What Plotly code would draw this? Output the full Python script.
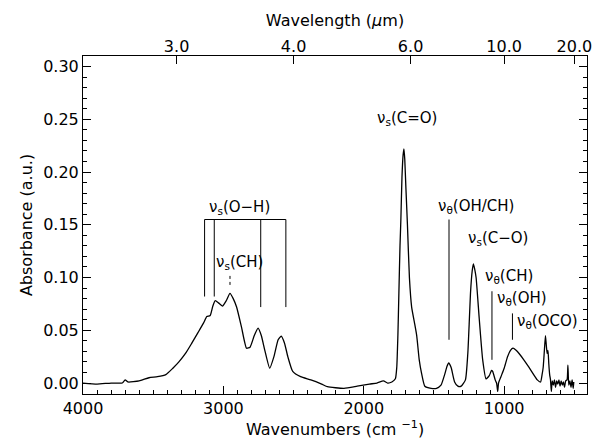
import plotly.graph_objects as go

# Spectrum (wavenumber in cm^-1, absorbance in a.u.)
wavenumber = [4000, 3900, 3800, 3720, 3700, 3680, 3600, 3530, 3470, 3410, 3360, 3317, 3270,
              3224, 3180, 3141, 3118, 3094, 3075, 3058, 3035, 3007, 2980, 2953, 2930, 2906,
              2871, 2835, 2810, 2780, 2753, 2730, 2705, 2670, 2640, 2610, 2588, 2565, 2541,
              2506, 2450, 2377, 2300, 2259, 2141, 2047, 1960, 1906, 1860, 1830, 1800, 1775,
              1765, 1757, 1750, 1742, 1736, 1728, 1720, 1714, 1708, 1700, 1689, 1675, 1659,
              1640, 1623, 1605, 1588, 1565, 1520, 1482, 1450, 1424, 1407, 1395, 1385, 1376,
              1353, 1330, 1306, 1276, 1259, 1248, 1240, 1228, 1219, 1210, 1200, 1177, 1153,
              1129, 1106, 1090, 1082, 1064, 1054, 1046, 1040, 1023, 1000, 976, 955, 937, 915,
              894, 860, 824, 790, 764, 741, 730, 722, 714, 706, 700, 694, 688, 682, 676, 670,
              664, 658, 650, 642, 634, 626, 618, 610, 602, 594, 586, 578, 570, 562, 552, 546,
              540, 532, 524, 516, 508, 504]
absorbance = [0.000, -0.001, 0.000, 0.000, 0.003, 0.001, 0.002, 0.005, 0.006, 0.008, 0.014,
              0.020, 0.028, 0.038, 0.048, 0.057, 0.063, 0.064, 0.073, 0.078, 0.076, 0.073,
              0.078, 0.085, 0.080, 0.072, 0.053, 0.033, 0.034, 0.045, 0.052, 0.045, 0.031,
              0.014, 0.025, 0.041, 0.0445, 0.038, 0.025, 0.011, 0.006, 0.003, -0.001, -0.0035,
              -0.005, -0.003, -0.001, 0.000, 0.002, 0.000, 0.001, 0.004, 0.015, 0.045, 0.085,
              0.130, 0.154, 0.195, 0.216, 0.222, 0.212, 0.185, 0.150, 0.100, 0.072, 0.058,
              0.045, 0.022, 0.009, -0.003, -0.005, -0.005, -0.002, 0.008, 0.016, 0.019, 0.017,
              0.014, 0.001, -0.003, -0.003, 0.003, 0.028, 0.060, 0.085, 0.106, 0.113, 0.108,
              0.100, 0.060, 0.022, 0.004, 0.007, 0.012, 0.011, 0.003, 0.000, -0.008, 0.000,
              0.006, 0.014, 0.025, 0.031, 0.033, 0.031, 0.028, 0.022, 0.015, 0.008, 0.003,
              0.001, 0.008, 0.015, 0.030, 0.045, 0.036, 0.028, 0.031, 0.018, 0.008, 0.003,
              -0.008, 0.002, -0.002, 0.003, -0.004, 0.002, -0.001, 0.003, -0.003, 0.002,
              -0.002, 0.001, -0.004, 0.002, 0.003, 0.017, -0.002, 0.002, -0.004, 0.003,
              -0.005, 0.001]

# Top axis: wavelength ticks (micron) placed at the equivalent wavenumbers
wavelength_ticks = [3.0, 4.0, 6.0, 10.0, 20.0]
wavelength_labels = ["3.0", "4.0", "6.0", "10.0", "20.0"]

# Band assignments: (label, x, y)
band_labels = [
    ("ν<sub>s</sub>(O−H)", 2882, 0.166),
    ("ν<sub>s</sub>(CH)", 2882, 0.114),
    ("ν<sub>s</sub>(C=O)", 1694, 0.251),
    ("ν<sub>θ</sub>(OH/CH)", 1200, 0.167),
    ("ν<sub>s</sub>(C−O)", 1047, 0.137),
    ("ν<sub>θ</sub>(CH)", 967, 0.1006),
    ("ν<sub>θ</sub>(OH)", 870, 0.080),
    ("ν<sub>θ</sub>(OCO)", 694, 0.058),
]
# O-H bracket
oh_bracket_x = [3134, 3065, 2734, 2555]
oh_bracket_bottom = [0.082, 0.082, 0.072, 0.072]
oh_bracket_top = 0.155
# single marker lines: (x, y0, y1)
marker_lines = [(1393, 0.041, 0.155), (1087, 0.022, 0.087), (941, 0.041, 0.066)]
ch_dotted = (2953, 0.093, 0.102)

FONT = "DejaVu Sans"
fig = go.Figure()
fig.add_trace(go.Scatter(x=wavenumber, y=absorbance, mode="lines",
                         line=dict(color="black", width=1.3, shape="spline", smoothing=0.5),
                         showlegend=False, hoverinfo="skip"))
fig.add_trace(go.Scatter(x=[wavenumber[0]], y=[absorbance[0]], mode="markers",
                         marker=dict(opacity=0), xaxis="x2", showlegend=False,
                         hoverinfo="skip"))

shapes = []
shapes.append(dict(type="line", xref="x", yref="y", x0=oh_bracket_x[0], x1=oh_bracket_x[-1],
                   y0=oh_bracket_top, y1=oh_bracket_top, line=dict(color="black", width=1)))
for xv, yb in zip(oh_bracket_x, oh_bracket_bottom):
    shapes.append(dict(type="line", xref="x", yref="y", x0=xv, x1=xv, y0=yb,
                       y1=oh_bracket_top, line=dict(color="black", width=1)))
for xv, y0, y1 in marker_lines:
    shapes.append(dict(type="line", xref="x", yref="y", x0=xv, x1=xv, y0=y0, y1=y1,
                       line=dict(color="black", width=1)))
shapes.append(dict(type="line", xref="x", yref="y", x0=ch_dotted[0], x1=ch_dotted[0],
                   y0=ch_dotted[1], y1=ch_dotted[2],
                   line=dict(color="black", width=1, dash="dot")))

annotations = [dict(text=t, x=xv, y=yv, xref="x", yref="y", showarrow=False,
                    font=dict(family=FONT, size=15, color="black"))
               for t, xv, yv in band_labels]

tickfont = dict(family=FONT, size=16, color="black")
titlefont = dict(family=FONT, size=16, color="black")

fig.update_layout(
    width=595, height=444,
    margin=dict(l=83, r=3, t=56, b=50),
    paper_bgcolor="white", plot_bgcolor="white",
    shapes=shapes, annotations=annotations,
    xaxis=dict(range=[4000, 410], tickmode="array", tickvals=[4000, 3000, 2000, 1000],
               ticks="inside", ticklen=8, tickcolor="black",
               minor=dict(tick0=0, dtick=100, ticks="inside", ticklen=4, tickcolor="black"),
               showline=True, linecolor="black", linewidth=1, mirror=True,
               showgrid=False, zeroline=False, tickfont=tickfont, ticklabeloverflow="allow",
               title=dict(text="Wavenumbers (cm <sup>−1</sup>)", font=titlefont, standoff=2)),
    xaxis2=dict(overlaying="x", side="top", range=[4000, 410], tickmode="array",
                tickvals=[1e4 / w for w in wavelength_ticks], ticktext=wavelength_labels,
                ticks="inside", ticklen=8, tickcolor="black", showline=False,
                showgrid=False, zeroline=False, tickfont=tickfont, ticklabeloverflow="allow",
                title=dict(text="Wavelength (<i>μ</i>m)", font=titlefont, standoff=6)),
    yaxis=dict(range=[-0.0104, 0.31], tickmode="array",
               tickvals=[0, 0.05, 0.10, 0.15, 0.20, 0.25, 0.30], tickformat=".2f",
               ticks="inside", ticklen=8, tickcolor="black",
               minor=dict(tick0=0, dtick=0.01, ticks="inside", ticklen=4, tickcolor="black"),
               showline=True, linecolor="black", linewidth=1, mirror="ticks",
               showgrid=False, zeroline=False, tickfont=tickfont, ticklabeloverflow="allow",
               title=dict(text="Absorbance (a.u.)", font=titlefont, standoff=6)),
)

fig.write_html("out.html")
